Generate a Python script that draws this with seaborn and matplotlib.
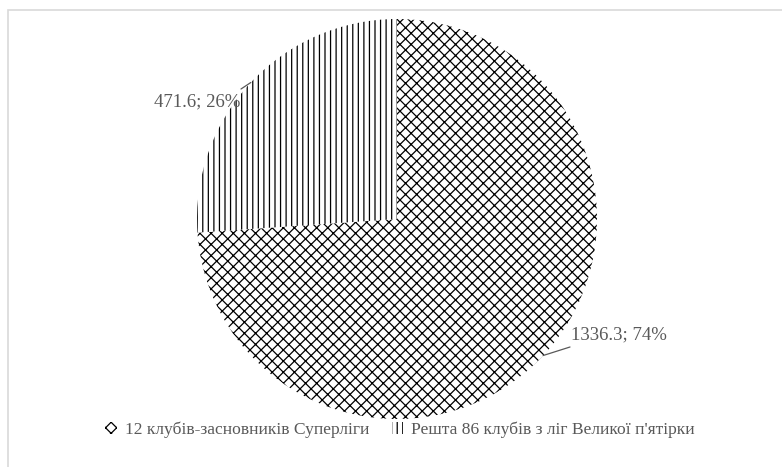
import numpy as np
import matplotlib
matplotlib.use("Agg")
import matplotlib.pyplot as plt
import seaborn as sns
from matplotlib.patches import Rectangle

# data
groups = ["12 клубів-засновників Суперліги", "Решта 86 клубів з ліг Великої п'ятірки"]
revenue = [1336.3, 471.6]
hatches = ["xxx", "|||"]

sns.set_theme(style="white")
plt.rcParams["font.family"] = ["Liberation Serif", "DejaVu Serif"]
plt.rcParams["hatch.linewidth"] = 0.9

text_col = "#595959"

fig = plt.figure(figsize=(7.82, 4.67), dpi=100)
fig.patch.set_facecolor("white")

# chart-area border (only top/left visible in the reference)
fig.patches.append(Rectangle((8 / 782, -0.1), 2.0, (467 - 10) / 467 + 0.1,
                             transform=fig.transFigure, fill=False,
                             edgecolor="#d9d9d9", lw=1.2, zorder=0))

ax = fig.add_axes([(397 - 200) / 782, (467 - 219 - 200) / 467, 400 / 782, 400 / 467])

wedges, _ = ax.pie(revenue, startangle=90, counterclock=False,
                   colors=["white", "white"], radius=1.0,
                   wedgeprops=dict(edgecolor="black", linewidth=0))
for w, h in zip(wedges, hatches):
    w.set_hatch(h)
    w.set_edgecolor("black")
    w.set_linewidth(0)
ax.set_xlim(-1, 1)
ax.set_ylim(-1, 1)
ax.set_aspect("equal")
ax.axis("off")

# data labels with short leader lines
total = sum(revenue)
label_pos = [(0.87, -0.58, "left"), (-0.785, 0.585, "right")]
line_end = [(0.865, -0.64), (-0.78, 0.65)]
for w, v, (tx, ty, ha), (lx, ly) in zip(wedges, revenue, label_pos, line_end):
    mid = np.deg2rad((w.theta1 + w.theta2) / 2)
    ex, ey = np.cos(mid), np.sin(mid)
    ax.plot([ex, lx], [ey, ly], color=text_col, lw=0.9, clip_on=False, zorder=5)
    ax.text(tx, ty, f"{v}; {v / total * 100:.0f}%", ha=ha, va="center",
            fontsize=13.5, color=text_col, zorder=6)

leg = fig.legend(wedges, groups, loc="center", bbox_to_anchor=(400 / 782, (467 - 430) / 467),
                 ncol=2, frameon=False, fontsize=12.6, handlelength=0.65, handleheight=0.7,
                 handletextpad=0.45, columnspacing=1.3)
for t in leg.get_texts():
    t.set_color(text_col)

fig.savefig("out.png", dpi=100)
